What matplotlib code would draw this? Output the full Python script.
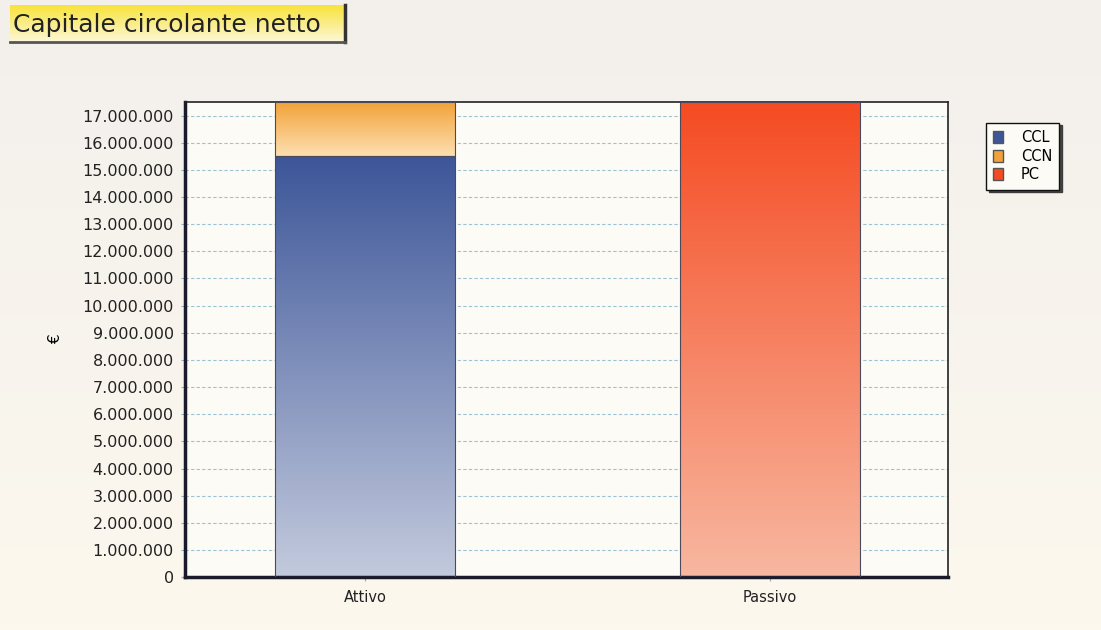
import numpy as np
import matplotlib.pyplot as plt
from matplotlib.patches import Rectangle
from matplotlib.ticker import FuncFormatter, MultipleLocator
from matplotlib.colors import LinearSegmentedColormap

categorie = ["Attivo", "Passivo"]
ccl = [15500000, 0]
ccn = [2000000, 0]
pc = [0, 17500000]
serie = ["CCL", "CCN", "PC"]

# colori (alto, basso) per il gradiente
colori = {
    "CCL": ("#3d5699", "#c3cadd"),
    "CCN": ("#f2a138", "#fde0b0"),
    "PC": ("#f54b22", "#f8b7a0"),
}

fig = plt.figure(figsize=(11.01, 6.30), dpi=100)

# sfondo sfumato
bg = fig.add_axes([0, 0, 1, 1], zorder=-10)
bg.imshow(np.linspace(0, 1, 100).reshape(-1, 1), aspect="auto", extent=[0, 1, 0, 1],
          cmap=LinearSegmentedColormap.from_list("bg", ["#fcf8ee", "#f3f0ec"]), origin="lower")
bg.axis("off")

ax = fig.add_axes([0.168, 0.084, 0.693, 0.754])
ax.set_facecolor("#fdfbf5")

x = np.arange(len(categorie))
larghezza = 0.445


def barra_gradiente(xs, valori, basi, nome):
    alto, basso = colori[nome]
    cmap = LinearSegmentedColormap.from_list(nome, [basso, alto])
    bars = ax.bar(xs, valori, larghezza, bottom=basi, color="none",
                  edgecolor="#4a4a5a", linewidth=0.8, zorder=3, label=nome)
    for b in bars:
        if b.get_height() <= 0:
            continue
        x0, y0 = b.get_x(), b.get_y()
        w, h = b.get_width(), b.get_height()
        im = ax.imshow(np.linspace(0, 1, 256).reshape(-1, 1), aspect="auto",
                       extent=[x0, x0 + w, y0, y0 + h], origin="lower", cmap=cmap, zorder=2)
        im.set_clip_path(b)
    return bars


barra_gradiente(x, ccl, [0, 0], "CCL")
barra_gradiente(x, ccn, ccl, "CCN")
barra_gradiente(x, pc, [0, 0], "PC")

ax.set_xlim(-0.445, 1.44)
ax.set_ylim(0, 17500000)
ax.yaxis.set_major_locator(MultipleLocator(1000000))
ax.yaxis.set_major_formatter(FuncFormatter(lambda v, p: f"{int(v):,}".replace(",", ".")))
ax.set_xticks(x)
ax.set_xticklabels(categorie)
ax.tick_params(axis="y", labelsize=11.5, colors="#222222", length=3, color="#9ab", pad=5)
ax.tick_params(axis="x", labelsize=10.5, colors="#222222", length=3, color="#9ab", pad=6)
ax.grid(axis="y", linestyle=(0, (3, 2)), color="#9cc3d3", linewidth=0.8, zorder=1)
ax.set_axisbelow(True)
ax.set_ylabel("€", fontsize=11)
ax.yaxis.set_label_coords(-0.16, 0.5)

for lato in ["top", "right"]:
    ax.spines[lato].set_linewidth(1.2)
    ax.spines[lato].set_color("#222222")
for lato in ["left", "bottom"]:
    ax.spines[lato].set_linewidth(2.5)
    ax.spines[lato].set_color("#1a1a2a")

# legenda
leg = ax.legend(handles=[Rectangle((0, 0), 1, 1, facecolor=colori[s][0], edgecolor="#555")
                         for s in serie], labels=serie,
                loc="upper left", bbox_to_anchor=(1.04, 0.972), frameon=True, fancybox=False,
                shadow={"color": "#333333", "alpha": 0.9}, fontsize=10.5,
                handlelength=0.7, handleheight=0.9, handletextpad=1.2, borderpad=0.5,
                labelspacing=0.25, edgecolor="#111111", facecolor="#fdfbf5")
leg.get_frame().set_linewidth(1.0)

# titolo in riquadro giallo
tax = fig.add_axes([10 / 1101, 1 - 42 / 630, 335 / 1101, 37 / 630])
tax.imshow(np.linspace(0, 1, 100).reshape(-1, 1), aspect="auto", extent=[0, 1, 0, 1],
           cmap=LinearSegmentedColormap.from_list("t", ["#fdf7d8", "#f8e33a"]), origin="lower")
tax.set_xlim(0, 1)
tax.set_ylim(0, 1)
tax.set_xticks([])
tax.set_yticks([])
for lato in ["top", "left"]:
    tax.spines[lato].set_visible(False)
tax.spines["right"].set_linewidth(2.5)
tax.spines["right"].set_color("#333333")
tax.spines["bottom"].set_linewidth(2.0)
tax.spines["bottom"].set_color("#555555")
tax.text(0.01, 0.45, "Capitale circolante netto", fontsize=18, va="center", ha="left",
         color="#222222")

fig.savefig("out.png", dpi=100)
